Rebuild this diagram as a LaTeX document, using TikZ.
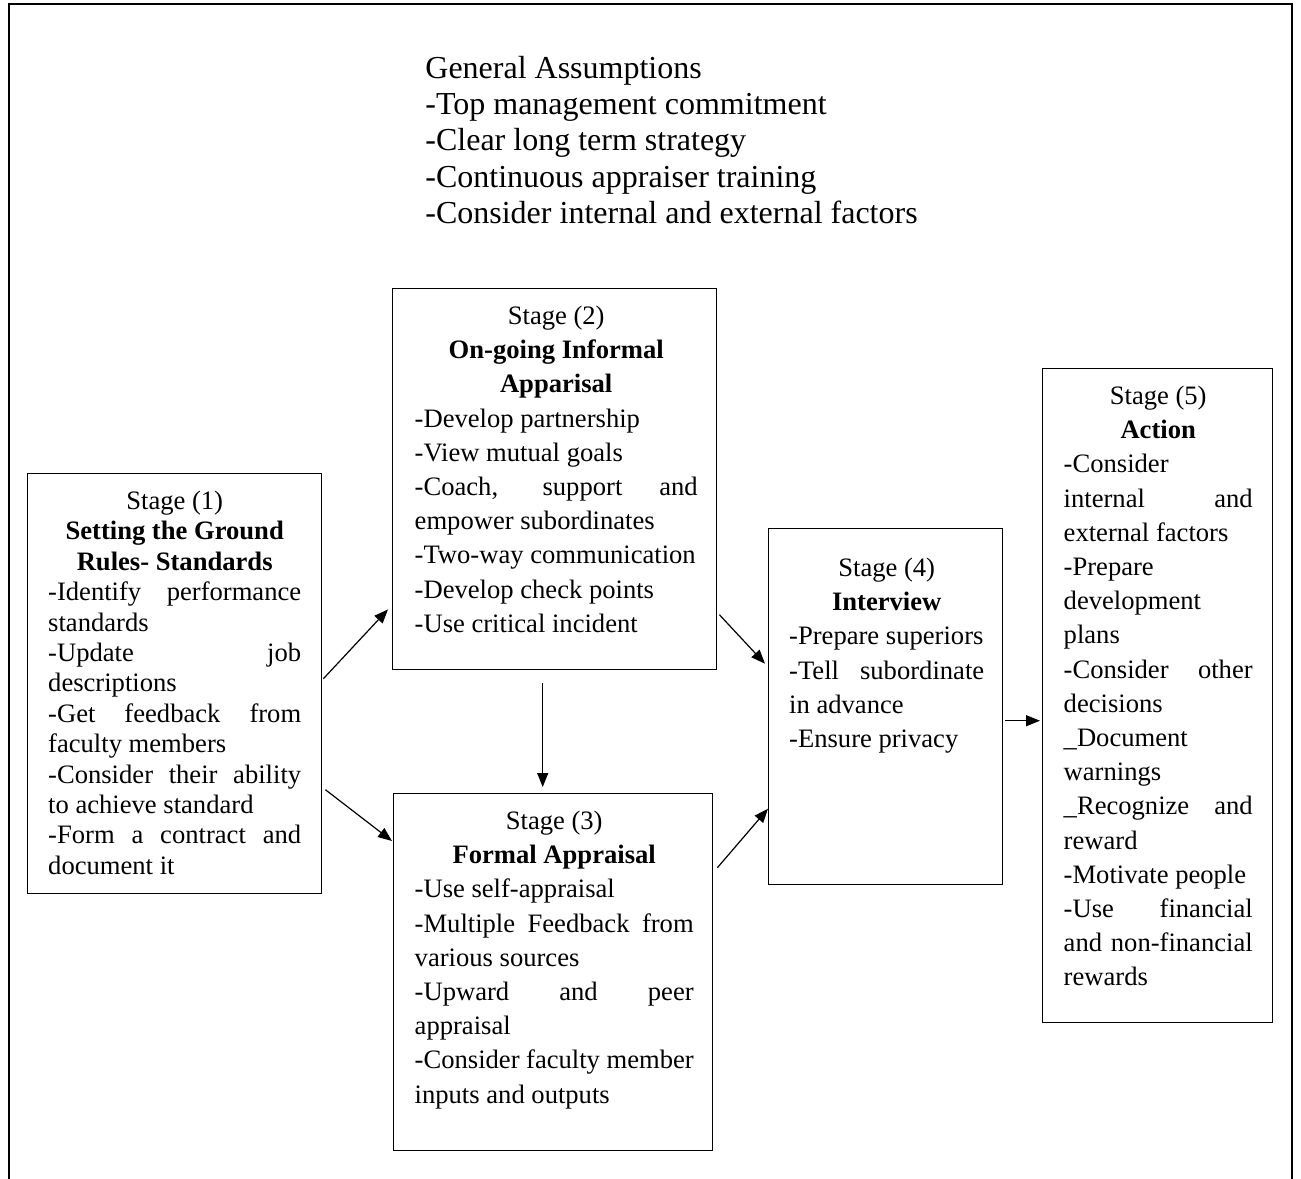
\documentclass[tikz,border=0pt]{standalone}
\usepackage{fontspec}
\setmainfont{Liberation Serif}
\usetikzlibrary{arrows.meta}
\newcommand\J[1]{{\spaceskip=0pt\xspaceskip=0pt\makebox[\hsize][s]{#1}}}
\newcommand\C[1]{\makebox[\hsize][c]{#1}}
\newcommand\Lft[1]{\makebox[\hsize][l]{#1}}
\newcommand\fs{\spaceskip=0pt\xspaceskip=0pt\rule{0pt}{10pt}}
\begin{document}
\begin{tikzpicture}[x=0.5pt,y=-0.5pt,
  box/.style={draw, line width=0.7pt, anchor=north west, inner sep=0pt},
  body/.style={anchor=north, inner sep=0pt, font=\fontsize{13.3pt}{17.1pt}\selectfont},
  conn/.style={-{Triangle[length=7pt,width=5.5pt]}, line width=0.6pt}]
\useasboundingbox (0,0) rectangle (1301,1178);
\draw[line width=1pt] (9,1182) -- (9,4) -- (1292,4) -- (1292,1182);

\node[anchor=north west, inner sep=0pt, align=left, font=\fontsize{16pt}{18.1pt}\selectfont] (ga) at (425,54)
 {\rule{0pt}{12pt}General Assumptions\\-Top management commitment\\-Clear long term strategy\\-Continuous appraiser training\\-Consider internal and external factors};

% boxes
\node[box, minimum width=147pt, minimum height=210pt] (s1) at (27,473) {};
\node[box, minimum width=162pt, minimum height=190.5pt] (s2) at (392,288) {};
\node[box, minimum width=159.5pt, minimum height=178.5pt] (s3) at (393,793) {};
\node[box, minimum width=117pt, minimum height=178pt] (s4) at (768,528) {};
\node[box, minimum width=115pt, minimum height=327pt] (s5) at (1042,368) {};

% texts
\node[body, text width=126.5pt, font=\fontsize{13.3pt}{15.2pt}\selectfont] (t1) at ([shift={(0,16)}]s1.north)
 {\fs\C{Stage (1)}\\
  \C{\textbf{Setting the Ground}}\\
  \C{\textbf{Rules- Standards}}\\
  \J{-Identify performance}\\
  \Lft{standards}\\
  \J{-Update job}\\
  \Lft{descriptions}\\
  \J{-Get feedback from}\\
  \Lft{faculty members}\\
  \J{-Consider their ability}\\
  \Lft{to achieve standard}\\
  \J{-Form a contract and}\\
  \Lft{document it}};

\node[body, text width=141.5pt] (t2) at ([shift={(1.5,16)}]s2.north)
 {\fs\C{Stage (2)}\\
  \C{\textbf{On-going Informal}}\\
  \C{\textbf{Apparisal}}\\
  \Lft{-Develop partnership}\\
  \Lft{-View mutual goals}\\
  \J{-Coach, support and}\\
  \Lft{empower subordinates}\\
  \Lft{-Two-way communication}\\
  \Lft{-Develop check points}\\
  \Lft{-Use critical incident}};

\node[body, text width=139.5pt] (t3) at ([shift={(1,16)}]s3.north)
 {\fs\C{Stage (3)}\\
  \C{\textbf{Formal Appraisal}}\\
  \Lft{-Use self-appraisal}\\
  \J{-Multiple Feedback from}\\
  \Lft{various sources}\\
  \J{-Upward and peer}\\
  \Lft{appraisal}\\
  \J{-Consider faculty member}\\
  \Lft{inputs and outputs}};

\node[body, text width=97.5pt] (t4) at ([shift={(1,28)}]s4.north)
 {\fs\C{Stage (4)}\\
  \C{\textbf{Interview}}\\
  \Lft{-Prepare superiors}\\
  \J{-Tell subordinate}\\
  \Lft{in advance}\\
  \Lft{-Ensure privacy}};

\node[body, text width=94.5pt] (t5) at ([shift={(0.5,16)}]s5.north)
 {\fs\C{Stage (5)}\\
  \C{\textbf{Action}}\\
  \Lft{-Consider}\\
  \J{internal and}\\
  \Lft{external factors}\\
  \Lft{-Prepare}\\
  \Lft{development}\\
  \Lft{plans}\\
  \J{-Consider other}\\
  \Lft{decisions}\\
  \Lft{\_Document}\\
  \Lft{warnings}\\
  \J{\_Recognize and}\\
  \Lft{reward}\\
  \Lft{-Motivate people}\\
  \J{-Use financial}\\
  \J{and non-financial}\\
  \Lft{rewards}};

% connectors
\draw[conn] ([shift={(1,-5)}]s1.east) -- ([shift={(-4,-61)}]s2.south west);
\draw[conn] ([shift={(3,106)}]s1.east) -- ([shift={(-1,48)}]s3.north west);
\draw[conn] ([shift={(-12,13)}]s2.south) -- ([shift={(-10.5,-6)}]s3.north);
\draw[conn] ([shift={(2,135.5)}]s2.east) -- ([shift={(-3,-43)}]s4.west);
\draw[conn] ([shift={(4,-104.5)}]s3.east) -- ([shift={(0,102)}]s4.west);
\draw[conn] ([shift={(2,14)}]s4.east) -- ([shift={(-2,25)}]s5.west);
\end{tikzpicture}
\end{document}
